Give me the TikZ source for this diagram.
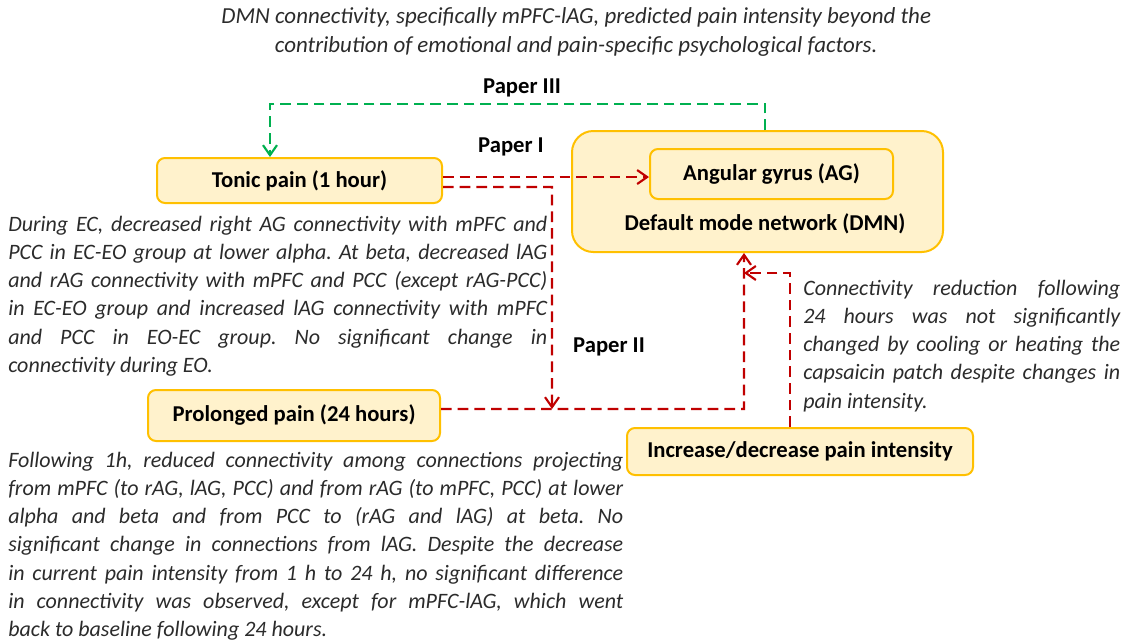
\documentclass[tikz,border=0pt]{standalone}
\usepackage{fontspec}
\setmainfont{Carlito}
\usetikzlibrary{arrows.meta,calc}
\definecolor{boxfill}{HTML}{FFF2CC}
\definecolor{boxdraw}{HTML}{FFC000}
\definecolor{redline}{HTML}{C00000}
\definecolor{greenline}{HTML}{00B050}
\definecolor{txt}{HTML}{2B2B2B}
\newcommand\jl[1]{\makebox[\linewidth][s]{#1}}
\frenchspacing
\begin{document}
\begin{tikzpicture}[x=0.75pt,y=-0.75pt,
  box/.style={draw=boxdraw,fill=boxfill,line width=1.5pt,rounded corners=6pt,
    font=\fontsize{17}{20}\selectfont\bfseries,text=black,inner sep=0pt},
  para/.style={font=\fontsize{16.5}{21.2}\selectfont\itshape\frenchspacing,text=txt,inner sep=0pt},
  lbl/.style={font=\fontsize{17}{20}\selectfont\bfseries,text=black,inner sep=0pt},
  conn/.style={line width=1.6pt,dash pattern=on 8pt off 4.5pt,
    -{Straight Barb[length=7.5pt,width=10.5pt]}},
  redconn/.style={conn,draw=redline},
  greenconn/.style={conn,draw=greenline}]
\useasboundingbox (0,0) rectangle (1132,640);

% top text
\node[para,anchor=base west,font=\fontsize{17.2}{21.75}\selectfont\itshape\frenchspacing] (top) at (10,23)
  {\makebox[849pt][c]{\parbox[t]{760pt}{\centering
  DMN connectivity, specifically mPFC-lAG, predicted pain intensity beyond the\\
  contribution of emotional and pain-specific psychological factors.}}};

% boxes
\node[box,minimum width=213.75pt,minimum height=33.75pt] (tonic) at (299.5,180.5) {Tonic pain (1 hour)};
\node[box,rounded corners=16pt,minimum width=278.25pt,minimum height=90.75pt] (dmn) at (757.5,191.5) {};
\node[box,minimum width=182.25pt,minimum height=37.5pt] (ag) at (771.5,174) {Angular gyrus (AG)};
\node[lbl,anchor=base] (dmnlbl) at (765,230) {Default mode network (DMN)};
\node[box,minimum width=219pt,minimum height=38.25pt] (prol) at (294,415.5) {Prolonged pain (24 hours)};
\node[box,minimum width=259.5pt,minimum height=35.25pt] (incr) at (800,451.5) {Increase/decrease pain intensity};

% paper labels
\node[lbl,anchor=base] (p3) at (522,93) {Paper III};
\node[lbl,anchor=base] (p1lbl) at (511,152) {Paper I};
\node[lbl,anchor=base] (p2lbl) at (609,352) {Paper II};

% connectors
\coordinate (g1) at (765,104);
\coordinate (g2) at (270,104);
\draw[greenconn] (dmn.north -| g1) -- (g1) -- (g2) -- (g2 |- tonic.north);

\draw[redconn] ([yshift=2.6pt]tonic.east) -- ([yshift=2.6pt]tonic.east -| ag.west);

\coordinate (r2a) at (552,187);
\coordinate (r2b) at (552,409);
\draw[redconn] ([yshift=-4.9pt]tonic.east) -- (r2a) -- (r2b);

\coordinate (r3) at (744,409);
\draw[redconn] ([yshift=4.9pt]prol.east) -- (r3) -- (r3 |- dmn.south);

\coordinate (r4) at (790,273);
\draw[redconn] (r4 |- incr.north) -- (r4) -- (r3 |- r4);

% paragraphs
\node[para,anchor=base west] (para1) at (8,231) {\parbox[t]{404.25pt}{%
\jl{During EC, decreased right AG connectivity with mPFC and}\\
\jl{PCC in EC-EO group at lower alpha. At beta, decreased lAG}\\
\jl{and rAG connectivity with mPFC and PCC (except rAG-PCC)}\\
\jl{in EC-EO group and increased lAG connectivity with mPFC}\\
\jl{and PCC in EO-EC group. No significant change in}\\
connectivity during EO.}};

\node[para,anchor=base west] (para2) at (803,295) {\parbox[t]{237.75pt}{%
\jl{Connectivity reduction following}\\
\jl{24 hours was not significantly}\\
\jl{changed by cooling or heating the}\\
\jl{capsaicin patch despite changes in}\\
pain intensity.}};

\node[para,anchor=base west] (para3) at (8,467) {\parbox[t]{461.25pt}{%
\jl{Following 1h, reduced connectivity among connections projecting}\\
\jl{from mPFC (to rAG, lAG, PCC) and from rAG (to mPFC, PCC) at lower}\\
\jl{alpha and beta and from PCC to (rAG and lAG) at beta. No}\\
\jl{significant change in connections from lAG. Despite the decrease}\\
\jl{in current pain intensity from 1 h to 24 h, no significant difference}\\
\jl{in connectivity was observed, except for mPFC-lAG, which went}\\
back to baseline following 24 hours.}};
\end{tikzpicture}
\end{document}
